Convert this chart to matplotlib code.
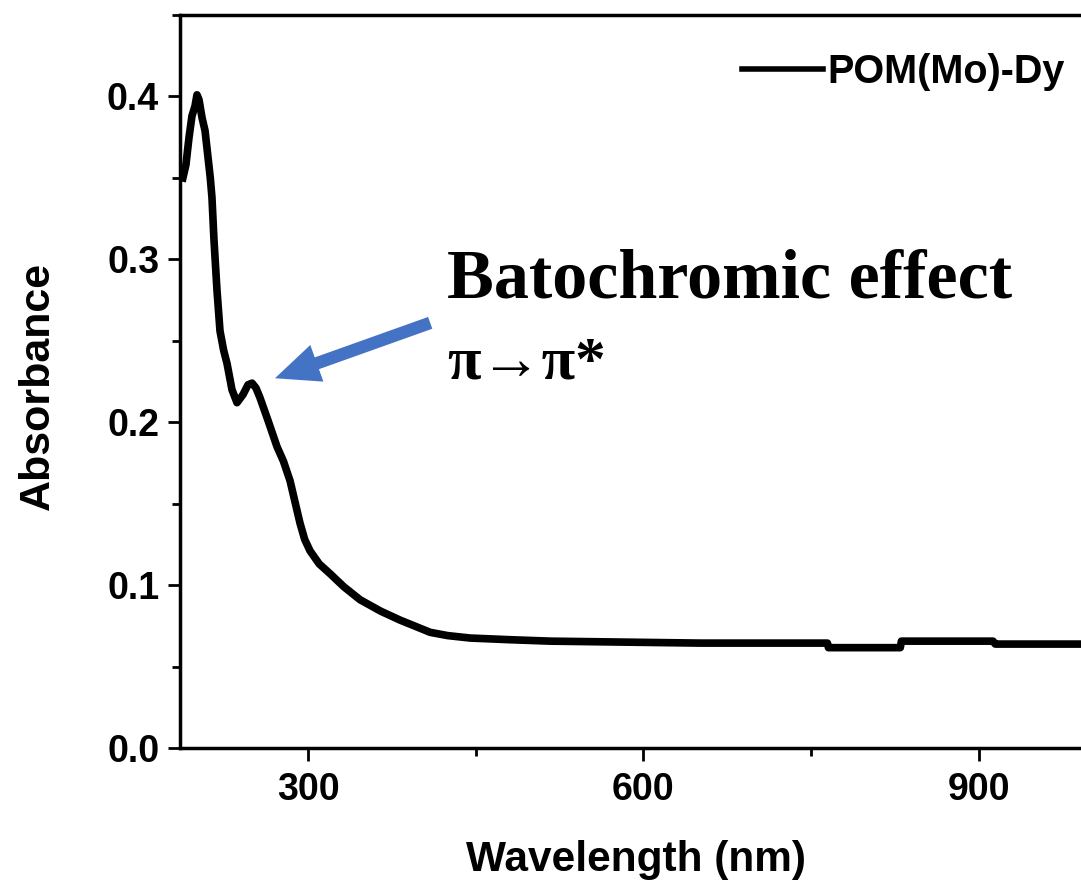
import matplotlib
matplotlib.use("Agg")
import matplotlib.pyplot as plt
from matplotlib.ticker import MultipleLocator

# Data
wavelength = [188, 190.7, 193.5, 196.1, 198.8, 200.6, 202.4, 205.1, 207.8, 210.4,
              212.5, 214.0, 215.8, 218.5, 221.2, 224.5, 227.5, 231.9, 236.4, 241.8,
              246.3, 249.9, 253.4, 257.0, 264.2, 272.2, 278.0, 283.9, 288.0, 292.8,
              297.0, 301.8, 310.0, 319.7, 332.0, 346.6, 365.0, 382.4, 395.0, 409.3,
              425.0, 445.1, 480.0, 516.7, 651.0, 764.8, 765.7, 830.0, 831.0, 913.0,
              915.0, 1100.0]
absorbance = [0.350, 0.358, 0.375, 0.388, 0.394, 0.401, 0.398, 0.387, 0.379, 0.363,
              0.350, 0.338, 0.312, 0.281, 0.256, 0.244, 0.236, 0.220, 0.212, 0.217,
              0.223, 0.224, 0.221, 0.215, 0.201, 0.185, 0.176, 0.164, 0.152, 0.138,
              0.128, 0.121, 0.113, 0.107, 0.099, 0.091, 0.084, 0.0785, 0.075, 0.071,
              0.069, 0.0675, 0.0665, 0.0656, 0.0644, 0.0644, 0.0616, 0.0616, 0.0656, 0.0656,
              0.0638, 0.0638]
series_label = "POM(Mo)-Dy"
x_ticks = [300, 600, 900]
y_ticks = [0.0, 0.1, 0.2, 0.3, 0.4]

W, H = 1081, 886
fig = plt.figure(figsize=(W / 100, H / 100), dpi=100)
ax_left, ax_bottom = 180 / W, 138 / H
ax_w, ax_h = 1022 / W, 733 / H
ax = fig.add_axes([ax_left, ax_bottom, ax_w, ax_h])

ax.plot(wavelength, absorbance, color="black", lw=5.5, label=series_label,
        solid_joinstyle="round")
ax.set_xlim(185.4, 1100)
ax.set_ylim(0, 0.45)

ax.set_xticks(x_ticks)
ax.set_yticks(y_ticks)
ax.xaxis.set_minor_locator(MultipleLocator(150))
ax.yaxis.set_minor_locator(MultipleLocator(0.05))
ax.set_yticklabels([f"{v:.1f}" for v in y_ticks])

for s in ax.spines.values():
    s.set_linewidth(2.5)
ax.tick_params(which="major", direction="out", length=9, width=2, labelsize=27, pad=6)
ax.tick_params(which="minor", direction="out", length=5.5, width=2)
ax.tick_params(axis="x", which="major", pad=8)
for lbl in ax.get_xticklabels() + ax.get_yticklabels():
    lbl.set_fontfamily("Liberation Sans")
    lbl.set_fontweight("bold")

fig.text(636 / W, 1 - 860 / H, "Wavelength (nm)", ha="center", va="center",
         fontsize=30.5, fontweight="bold", family="Liberation Sans")
fig.text(38 / W, 1 - 386 / H, "Absorbance", ha="center", va="center", rotation=90,
         fontsize=31, fontweight="bold", family="Liberation Sans")

leg = ax.legend(loc="center right", bbox_to_anchor=(1065 / W, 1 - 72 / H),
                bbox_transform=fig.transFigure, frameon=False, borderpad=0,
                borderaxespad=0, handlelength=2.05, handletextpad=0.12,
                prop={"family": "Liberation Sans", "weight": "bold", "size": 28.5})
for h in leg.get_lines():
    h.set_linewidth(4)

ax.text(424.5, 0.2767, "Batochromic effect", fontsize=50.5, fontweight="bold",
        family="Liberation Serif", ha="left", va="baseline")
ax.text(424.5, 0.227, "π→π*", fontsize=44, fontweight="bold",
        family=["Liberation Serif", "DejaVu Serif"], ha="left", va="baseline")

ax.annotate("", xy=(270.4, 0.227), xytext=(409.3, 0.261),
            arrowprops=dict(arrowstyle="simple,head_length=1.6,head_width=1.4,tail_width=0.45",
                            mutation_scale=20, color="#4472C4", lw=0,
                            shrinkA=0, shrinkB=0))

fig.savefig("out.png", dpi=100)
